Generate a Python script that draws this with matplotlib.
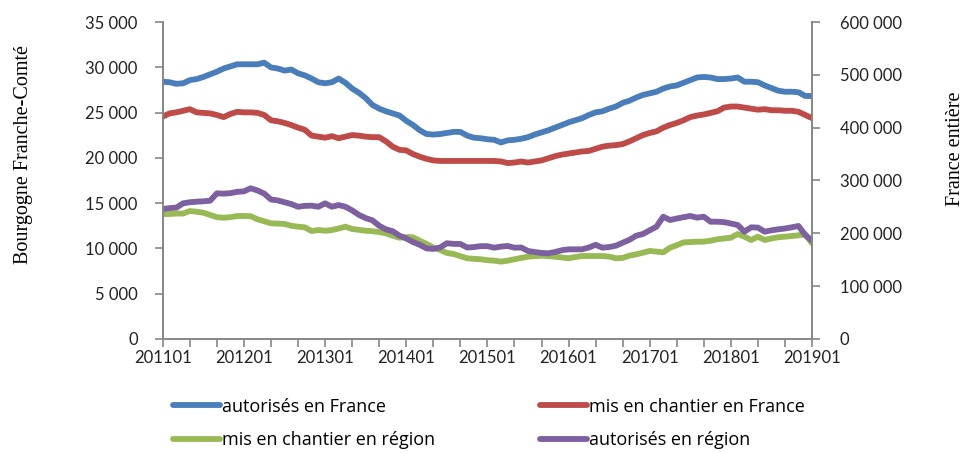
import matplotlib
matplotlib.use("Agg")
import matplotlib.pyplot as plt
from matplotlib.ticker import FuncFormatter, FixedLocator
import numpy as np

# ================================
# Data (monthly, 2011-01 .. 2019-01)
# ================================
years = [str(y) + "01" for y in range(2011, 2020)]

# France entiere (right axis), thousands
autorises_france = [
    487, 486, 483, 484, 490, 492, 496, 501, 506, 512, 516, 520,
    520, 520, 520, 523, 514, 512, 508, 510, 503, 499, 493, 486,
    484, 486, 493, 485, 474, 466, 456, 443, 436, 431, 427, 423,
    413, 405, 395, 388, 387, 388, 390, 392, 392, 385, 381, 380,
    378, 377, 372, 376, 377, 379, 382, 387, 391, 395, 400, 405,
    410, 414, 418, 424, 429, 431, 436, 440, 447, 451, 457, 462,
    465, 468, 474, 478, 480, 485, 490, 495, 496, 495, 492, 492,
    493, 495, 487, 487, 486, 480, 475, 470, 468, 468, 467, 460,
    460]
chantier_france = [
    421, 427, 429, 432, 435, 429, 428, 427, 424, 420, 426, 430,
    429, 429, 428, 424, 414, 412, 409, 405, 400, 396, 385, 383,
    381, 384, 380, 383, 386, 385, 383, 382, 382, 374, 364, 358,
    357, 350, 345, 341, 338, 337, 337, 337, 337, 337, 337, 337,
    337, 337, 336, 333, 334, 336, 334, 336, 338, 342, 346, 349,
    351, 353, 355, 356, 360, 364, 366, 367, 369, 374, 380, 386,
    390, 393, 400, 405, 409, 414, 420, 423, 425, 428, 431, 438,
    440, 440, 438, 436, 434, 435, 433, 433, 432, 432, 430, 424,
    418]

# Bourgogne Franche-Comte (left axis)
chantier_region = [
    13800, 13800, 13850, 13850, 14130, 14050, 13940, 13700, 13450, 13390, 13450, 13580,
    13580, 13560, 13210, 13000, 12770, 12740, 12700, 12500, 12400, 12330, 11920, 12030,
    11950, 12030, 12200, 12400, 12140, 12050, 11950, 11900, 11800, 11670, 11400, 11180,
    11250, 11230, 10850, 10490, 10100, 9830, 9500, 9380, 9150, 8910, 8850, 8800,
    8700, 8650, 8540, 8650, 8800, 8950, 9090, 9150, 9200, 9150, 9090, 9000,
    8910, 9050, 9160, 9160, 9160, 9160, 9100, 8910, 8950, 9200, 9350, 9530,
    9720, 9650, 9570, 10080, 10350, 10670, 10700, 10740, 10750, 10850, 11010, 11100,
    11180, 11590, 11300, 10930, 11290, 10930, 11100, 11230, 11300, 11370, 11450, 11560,
    10570]
autorises_region = [
    14350, 14450, 14500, 14980, 15100, 15160, 15200, 15270, 16080, 16050, 16100, 16250,
    16300, 16640, 16400, 16050, 15400, 15300, 15100, 14900, 14600, 14700, 14720, 14600,
    14980, 14600, 14790, 14600, 14200, 13700, 13350, 13100, 12500, 12100, 11900, 11400,
    11100, 10700, 10400, 10000, 9950, 10100, 10570, 10500, 10490, 10100, 10150, 10250,
    10250, 10080, 10200, 10270, 10080, 10100, 9720, 9600, 9500, 9460, 9600, 9800,
    9900, 9900, 9900, 10100, 10400, 10080, 10150, 10300, 10630, 10950, 11400, 11600,
    12000, 12400, 13500, 13140, 13300, 13450, 13580, 13400, 13500, 12950, 12950, 12900,
    12750, 12590, 11850, 12330, 12300, 11850, 12000, 12110, 12200, 12330, 12480, 11480,
    10850]

months = np.arange(len(autorises_france))

# ================================
# Style
# ================================
c_blue = "#4a7ebb"
c_red = "#be4b48"
c_green = "#98b954"
c_purple = "#7d60a0"
c_axis = "#868686"
lw = 4.2
tick_font = "Lato"


def spaced(v, pos):
    return f"{int(v):,}".replace(",", " ")


fig = plt.figure(figsize=(9.69, 4.53), dpi=100)
ax = fig.add_axes([0.168, 0.2517, 0.670, 0.6997])
ax2 = ax.twinx()

# region series on the left axis, France series on the right axis
l3, = ax.plot(months, chantier_region, color=c_green, lw=lw, solid_capstyle="round")
l4, = ax.plot(months, autorises_region, color=c_purple, lw=lw, solid_capstyle="round")
l1, = ax2.plot(months, np.array(autorises_france) * 1000, color=c_blue, lw=lw, solid_capstyle="round")
l2, = ax2.plot(months, np.array(chantier_france) * 1000, color=c_red, lw=lw, solid_capstyle="round")

ax.set_xlim(0, 96)
ax.set_ylim(0, 35000)
ax2.set_ylim(0, 600000)
ax.set_yticks(range(0, 35001, 5000))
ax2.set_yticks(range(0, 600001, 100000))
ax.yaxis.set_major_formatter(FuncFormatter(spaced))
ax2.yaxis.set_major_formatter(FuncFormatter(spaced))

ax.xaxis.set_major_locator(FixedLocator(range(0, 97, 12)))
ax.set_xticklabels(years)
ax.xaxis.set_minor_locator(FixedLocator(range(0, 97, 4)))

for a in (ax, ax2):
    for side in ("left", "right", "bottom"):
        a.spines[side].set_color(c_axis)
        a.spines[side].set_linewidth(1.2)
    a.spines["top"].set_visible(False)
    a.tick_params(axis="both", which="both", color=c_axis, width=1.2,
                  labelsize=12, labelcolor="#222222")
    a.tick_params(axis="y", length=6)
    for lab in a.get_yticklabels():
        lab.set_fontfamily(tick_font)
ax.tick_params(axis="y", pad=12)
ax2.tick_params(axis="y", pad=14)
ax.tick_params(axis="x", which="major", length=6, pad=2)
ax.tick_params(axis="x", which="minor", length=6)
for lab in ax.get_xticklabels():
    lab.set_fontfamily(tick_font)

fig.text(0.024, 0.658, "Bourgogne Franche-Comté", rotation=90, va="center", ha="center",
         family="Liberation Serif", fontsize=14.5)
fig.text(0.986, 0.671, "France entière", rotation=90, va="center", ha="center",
         family="Liberation Serif", fontsize=14.5)

# legend: row 1 France series, row 2 region series (matplotlib fills by column)
fig.legend([l1, l3, l2, l4],
           ["autorisés en France", "mis en chantier en région",
            "mis en chantier en France", "autorisés en région"],
           loc="upper left", bbox_to_anchor=(0.1785, 0.122), ncol=2, frameon=False,
           borderaxespad=0, borderpad=0,
           prop={"family": "Open Sans", "size": 13}, handlelength=2.6,
           handletextpad=0.12, columnspacing=5.8, labelspacing=0.85)

fig.savefig("out.png", dpi=100)
